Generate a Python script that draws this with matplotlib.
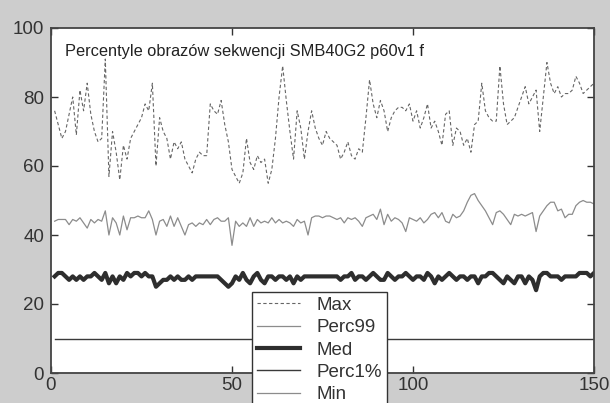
import matplotlib
matplotlib.use('Agg')
import matplotlib.pyplot as plt
import numpy as np

plt.rcParams['font.family'] = ['Liberation Sans', 'DejaVu Sans']

# Series values per frame (1..150)
max_vals = [76, 72, 68, 70, 75, 80, 69, 82, 76, 84, 75, 70, 67, 68, 91, 57, 70, 64, 56, 66,
            62, 68, 70, 72, 74, 78, 76, 84, 60, 74, 70, 68, 62, 67, 65, 67, 62, 60, 58, 62,
            64, 63, 63, 78, 76, 75, 79, 72, 67, 59, 57, 55, 58, 68, 61, 59, 63, 61, 62, 55,
            59, 68, 80, 89, 79, 70, 62, 76, 71, 62, 70, 76, 71, 68, 66, 70, 68, 67, 66, 62,
            64, 67, 63, 62, 65, 64, 74, 85, 78, 74, 79, 76, 70, 74, 76, 77, 77, 76, 78, 73,
            76, 71, 74, 78, 71, 73, 70, 66, 75, 76, 66, 71, 70, 66, 68, 64, 72, 73, 84, 76,
            74, 73, 73, 89, 78, 72, 73, 74, 77, 80, 83, 78, 80, 82, 70, 80, 90, 84, 81, 83,
            80, 81, 81, 82, 86, 84, 81, 82, 83, 84]

perc99 = [44, 44.5, 44.5, 44.5, 43, 44.5, 44, 45, 43.5, 42, 44.5, 43.5, 44.5, 44, 47, 40, 45, 43.5, 40, 45.5,
          41.5, 45, 45, 45.5, 45, 45, 47, 44.5, 40, 44, 44.5, 42.5, 45.5, 42.5, 45, 42.5, 40, 43, 43.5, 42.5,
          43.5, 43, 44.5, 43, 44.5, 45, 44, 44, 45, 37, 44, 42.5, 43.5, 42.5, 45, 42.5, 44.5, 43.5, 44, 43.5,
          45, 43.5, 44.5, 43.5, 44, 43.5, 42.5, 44.5, 43.5, 44, 40, 45, 45.5, 45.5, 45, 45.5, 45.5, 45, 44.5, 45,
          43.5, 45, 44.5, 45, 44, 42.5, 45, 45.5, 46, 44.5, 47.5, 43, 46, 44, 45, 44.5, 43.5, 41, 45, 44.5,
          44, 45, 43.5, 44.5, 46, 46.5, 45, 46.5, 44, 43.5, 46, 45, 45.5, 47, 49.5, 51.5, 52, 50, 48.5, 47,
          45, 43, 46.5, 47, 46, 44.5, 43, 46, 45.5, 46, 45.5, 46, 46.5, 41, 45.5, 47, 48.5, 49.5, 49.5, 47,
          47.5, 45, 46, 46, 48.5, 49.5, 50, 49.5, 49.5, 49]

med = [28, 29, 29, 28, 27, 28, 27, 28, 27, 28, 28, 29, 28, 27, 29, 26, 28, 26, 28, 27,
       29, 28, 29, 29, 28, 29, 28, 28, 25, 26, 27, 27, 28, 27, 28, 27, 27, 28, 27, 28,
       28, 28, 28, 28, 28, 28, 27, 26, 25, 26, 28, 27, 29, 27, 26, 28, 29, 27, 26, 28,
       28, 27, 28, 28, 27, 28, 26, 28, 27, 28, 28, 28, 28, 28, 28, 28, 28, 28, 28, 27,
       28, 28, 29, 27, 28, 28, 27, 28, 29, 28, 27, 27, 29, 28, 27, 28, 28, 29, 28, 27,
       28, 28, 27, 29, 28, 26, 28, 27, 28, 29, 28, 27, 28, 28, 27, 28, 28, 26, 28, 28,
       29, 29, 28, 27, 26, 28, 27, 26, 28, 28, 26, 28, 27, 24, 28, 29, 29, 28, 28, 28,
       27, 28, 28, 28, 28, 29, 29, 29, 28, 29]

perc1 = [10] * 150
min_vals = [0] * 150
frames = np.arange(1, 151)

fig = plt.figure(figsize=(6.1, 4.03), dpi=100, facecolor='#cdcdcd')
ax = fig.add_axes([51/610, 1 - 373/403, (594 - 51)/610, (373 - 28)/403])

ax.plot(frames, max_vals, ls=(0, (3, 2.2)), color='#666666', lw=0.8, label='Max')
ax.plot(frames, perc99, color='#8c8c8c', lw=0.9, label='Perc99')
ax.plot(frames, med, color='#2e2e2e', lw=3.0, label='Med')
ax.plot(frames, perc1, color='#3a3a3a', lw=1.0, label='Perc1%')
ax.plot(frames, min_vals, color='#8c8c8c', lw=0.9, label='Min')

ax.set_xlim(0, 150)
ax.set_ylim(0, 100)
ax.set_xticks([0, 50, 100, 150])
ax.set_yticks([0, 20, 40, 60, 80, 100])
ax.tick_params(direction='in', length=5, width=1, labelsize=13.5, colors='#333333',
               top=True, right=True)
ax.tick_params(axis='y', pad=5)
ax.tick_params(axis='x', pad=3)
for s in ax.spines.values():
    s.set_color('#444444')
    s.set_linewidth(1.3)

ax.text(0.026, 0.955, 'Percentyle obrazów sekwencji SMB40G2 p60v1 f', transform=ax.transAxes,
        fontsize=11.8, color='#222222', va='top', ha='left')

leg = ax.legend(loc='upper left', bbox_to_anchor=(252/610, 1 - 292/403),
                bbox_transform=fig.transFigure, borderaxespad=0, fontsize=13.5,
                fancybox=False, framealpha=1, edgecolor='#333333',
                handlelength=2.3, handletextpad=0.9, labelspacing=0.28,
                borderpad=0.25)
leg.get_frame().set_linewidth(1.0)
for t in leg.get_texts():
    t.set_color('#333333')

fig.savefig('out.png', dpi=100, facecolor=fig.get_facecolor())
